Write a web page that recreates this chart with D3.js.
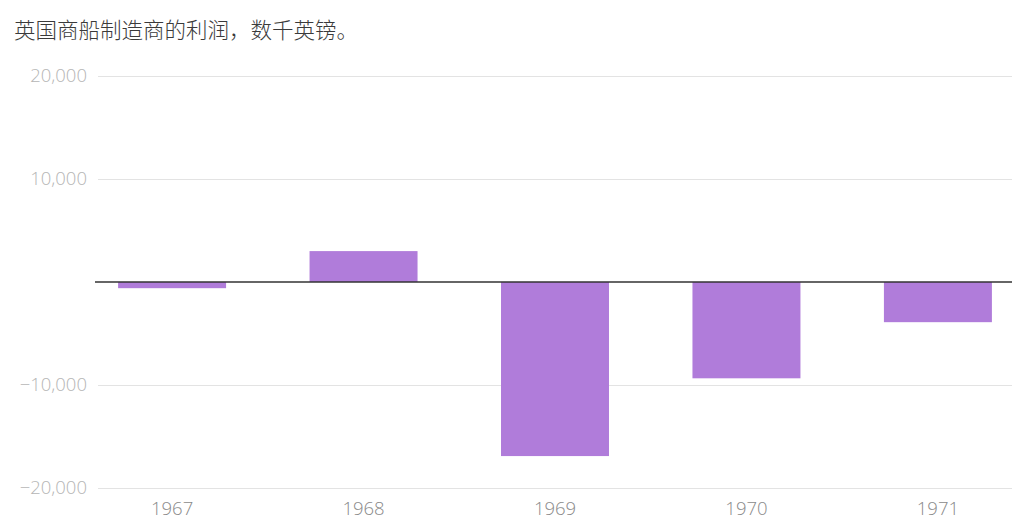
<!DOCTYPE html>
<html>
<head>
<meta charset="utf-8">
<script src="https://cdn.jsdelivr.net/npm/d3@7"></script>
<style>
  body { margin: 0; background: #fff; }
  svg { display: block; }
</style>
</head>
<body>
<svg width="1024" height="532"></svg>
<script>
// Data
const years = ["1967", "1968", "1969", "1970", "1971"];
const profits = [-600, 3000, -16900, -9350, -3900];
const yTicks = [-20000, -10000, 10000, 20000];
const title = "英国商船制造商的利润，数千英镑。";

const svg = d3.select("svg");

const x = d3.scaleBand()
  .domain(years)
  .range([98, 1012])
  .paddingInner(0.436)
  .paddingOuter(0.105);

const y = d3.scaleLinear().domain([-20000, 20000]).range([488, 76]);

// Title
svg.append("text")
  .attr("x", 14)
  .attr("y", 38)
  .attr("font-family", "'Noto Sans CJK SC', sans-serif")
  .attr("font-weight", 300)
  .attr("font-size", 21.5)
  .attr("fill", "#3a3a3a")
  .text(title);

// Gridlines + y labels
const yAxis = svg.append("g")
  .attr("transform", "translate(98,0)")
  .call(d3.axisLeft(y).tickValues(yTicks).tickSize(-(1012 - 98)).tickPadding(11).tickFormat(d3.format(",")));
yAxis.select(".domain").remove();
yAxis.selectAll(".tick line").attr("stroke", "#e3e3e3").attr("stroke-width", 1.2);
yAxis.selectAll(".tick text")
  .attr("fill", "#b5b5b5")
  .attr("font-family", "'Open Sans', sans-serif")
  .attr("font-weight", 300)
  .attr("font-size", 18.5);

// Bars
svg.append("g").selectAll("rect")
  .data(profits)
  .join("rect")
  .attr("x", (d, i) => x(years[i]))
  .attr("width", x.bandwidth())
  .attr("y", d => y(Math.max(0, d)))
  .attr("height", d => Math.abs(y(d) - y(0)))
  .attr("fill", "#b07cda");

// Zero line
svg.append("line")
  .attr("x1", 95).attr("x2", 1012)
  .attr("y1", y(0)).attr("y2", y(0))
  .attr("stroke", "#333")
  .attr("stroke-width", 1.3);

// X labels
const xAxis = svg.append("g")
  .attr("transform", "translate(0,488)")
  .call(d3.axisBottom(x).tickSize(0).tickPadding(14));
xAxis.select(".domain").remove();
xAxis.selectAll(".tick text")
  .attr("fill", "#8a8a8a")
  .attr("font-family", "'Open Sans', sans-serif")
  .attr("font-weight", 300)
  .attr("font-size", 18.5);
</script>
</body>
</html>
